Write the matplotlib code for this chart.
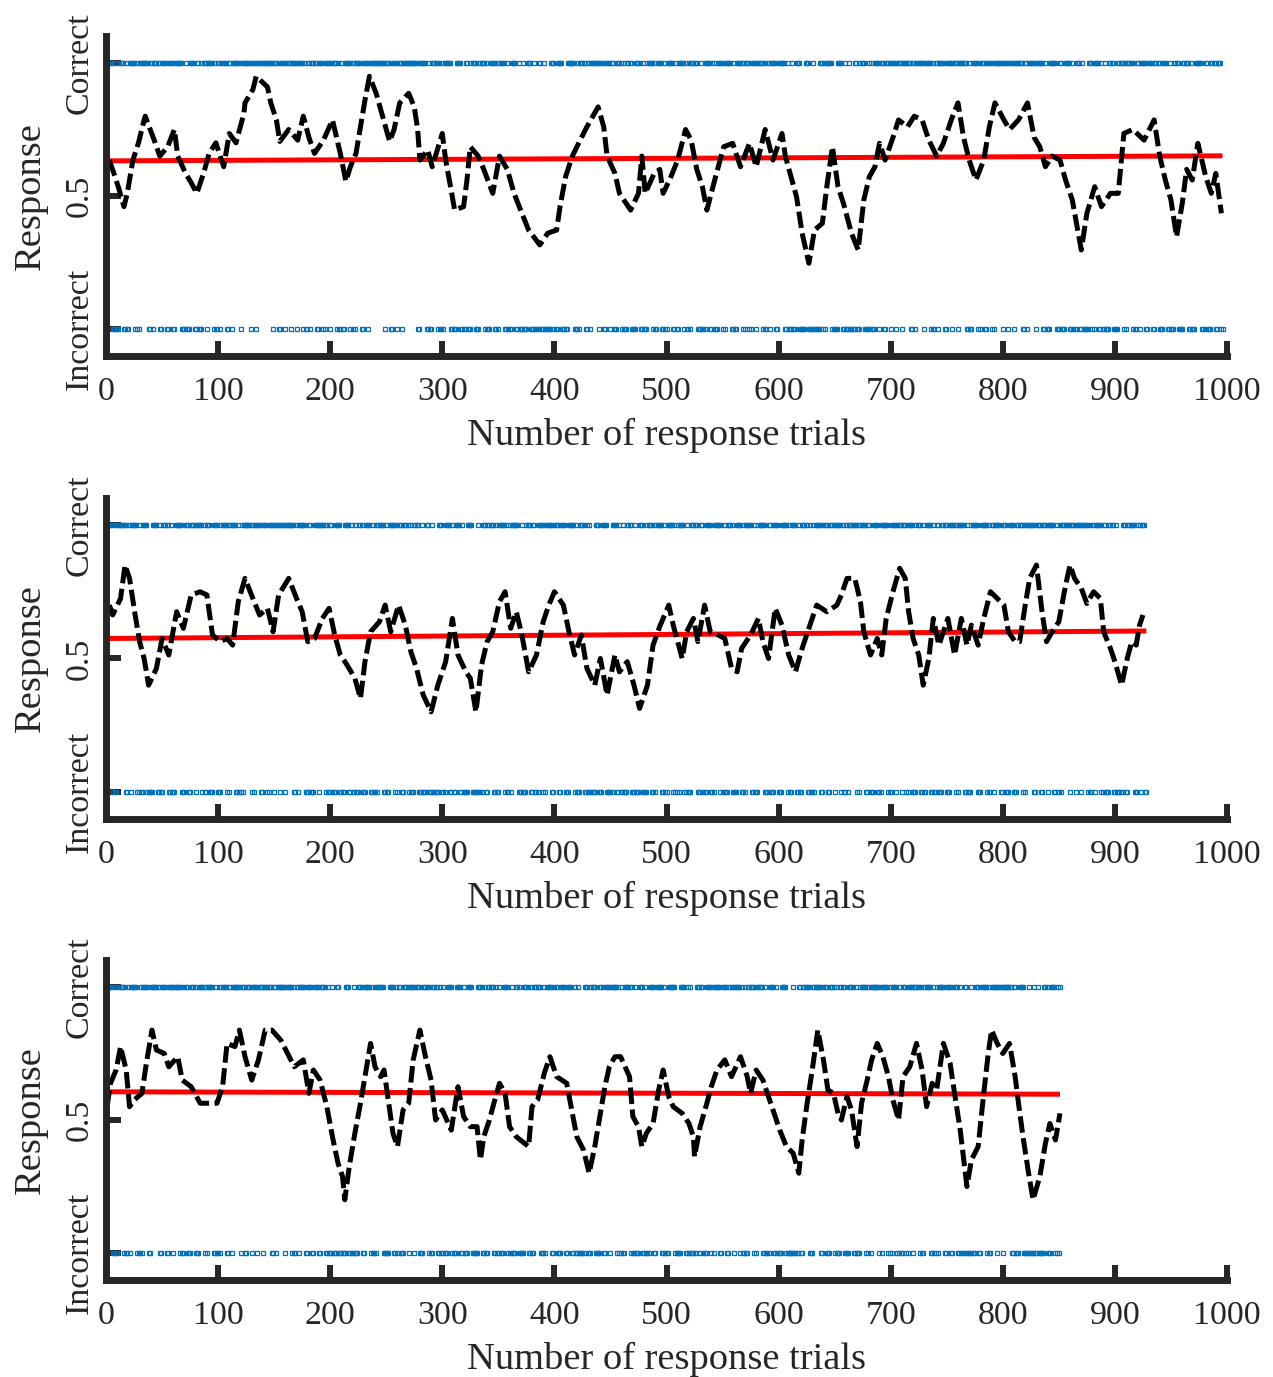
import numpy as np
import matplotlib
matplotlib.use("Agg")
import matplotlib.pyplot as plt

plt.rcParams['font.family'] = ['Liberation Serif', 'DejaVu Serif']

"""
Three sessions of response trials: raw outcomes (blue), moving average (black dashed)
and a linear trend (red).
"""

# number of trials per session
n_trials = [996, 928, 851]

# trial outcomes, 1 = correct, 0 = incorrect (blocks of 10 trials)
outcomes_1 = """
1111100100 0111100100 1111101001 1111111001 1011111001
1110011110 0111111000 1000111100 1100011110 1111101001
1011111001 1011111110 1111111101 1110111111 1111111101
1110011110 1111011110 1111101001 1011111001 1110011110
1111101001 0011111010 1011111001 1110111111 1111111101
1110011110 1110111111 1111111001 1111100100 1111101001
0111111000 0011110000 1100011110 0011111010 0011110010
1111100100 0111100100 0100011100 0100011000 1000001110
0011110000 0111111000 1011111001 1011111110 1110011110
1100011110 1000111100 0011110010 0011111010 0111100100
1111100100 1111101001 0111111000 1000111100 1100011110
1011111001 0011111010 1110011110 1111101001 1011111001
1111100100 0100011100 0001110000 1000001110 0111111000
0011110010 0010000110 0011110000 1100011110 1110011110
1111011110 1111111001 1011111110 1111101001 1011111001
1111011110 1111111001 0011111010 1110011110 1011111110
1111011110 1111111001 1011111110 1111100100 0111111000
1100011110 0100011100 1000001110 0111100100 1000111100
0011111010 1111101001 1011111001 1110011110 0011110010
0011110000 1111100100 0111111000 1100011110 0111000000
"""

outcomes_2 = """
1111101001 1111111001 1011111001 0011110000 0111100100
1111100100 0111111000 1110011110 1111101001 1100011110
0011111010 1111100100 1011111110 1011111001 1110011110
1111011110 1111111001 0111111000 1100011110 1111101001
1000111100 0011110010 0100011100 0111100100 1011111001
0011111010 1110011110 1000111100 0100011000 1000001110
0011110010 0111100100 0011110000 0100011100 1111100100
1111101001 0111111000 1000111100 1100011110 1011111001
1110011110 0011111010 0011110010 1000001110 0011110000
0111100100 1000111100 0100011100 0011110010 1111100100
1111101001 0111100100 0111111000 1100011110 0011111010
1000111100 0011110010 1111100100 0111111000 1100011110
0011111010 0111100100 1111100100 1011111001 1110011110
1111101001 1011111110 1011111001 1000111100 0111111000
1111011110 1110011110 0011110010 0111100100 1100011110
0011111010 1111100100 0111111000 1111101001 1011111001
1100011110 0011111010 1111111001 1110011110 1111100100
1011111110 1111011110 1111101001 1011111001 1000111100
1000001110 0111111000 1101110000
"""

outcomes_3 = """
1111100100 1111101001 0111111000 1011111001 1111111001
1110011110 1111101001 1100011110 0011111010 1111100100
1011111001 1011111110 1110011110 1111011110 1111111001
1011111110 1111101001 1011111001 1110011110 0111100100
0100011000 0001110000 1000111100 1111101001 0111111000
0011110010 1100011110 1111011110 0011111010 0111100100
1000111100 0011110010 0011110000 0111100100 1111100100
1000111100 0100011100 0011110010 0111111000 1011111001
1100011110 0111100100 1000001110 0011110000 1110011110
1111101001 0011111010 0100011100 1000111100 1111100100
0111111000 0011110010 1000001110 1100011110 1011111001
1110011110 1111101001 0011111010 1111100100 0111100100
0011110000 0010000110 0111111000 1111111001 1100011110
1000111100 0011110010 0011111010 1011111110 1011111001
0111100100 1110011110 1111101001 1111100100 1011111001
1110011110 0100011000 0100011100 1111101001 1111011110
1111111001 1000111100 0010000100 1000001110 0011110010
1000000000
"""

# moving average of responses (trial, value)
avg_1_x = [3, 8, 12, 16, 19, 24, 29, 34, 35, 43, 48, 55, 61, 64, 71, 76, 81, 87, 92, 98,
           105, 110, 116, 123, 124, 131, 134, 144, 147, 152, 155, 163, 171, 176, 181, 186, 194, 202, 209, 214,
           218, 223, 227, 231, 235, 241, 246, 253, 257, 262, 270, 275, 278, 280, 287, 291, 300, 303, 308, 311,
           319, 322, 325, 332, 337, 345, 351, 358, 364, 371, 377, 387, 394, 402, 405, 410, 416, 423, 429, 439,
           444, 447, 454, 458, 468, 475, 478, 481, 489, 494, 497, 504, 510, 517, 522, 527, 532, 536, 543, 551,
           559, 566, 574, 580, 588, 595, 603, 606, 611, 616, 621, 627, 632, 639, 643, 648, 653, 658, 665, 671,
           676, 681, 686, 690, 695, 702, 707, 715, 721, 728, 734, 741, 747, 754, 760, 765, 770, 776, 783, 788,
           793, 801, 806, 814, 822, 828, 833, 838, 844, 851, 856, 862, 870, 875, 882, 888, 896, 903, 908, 916,
           926, 935, 940, 945, 950, 955, 960, 964, 969, 974, 981, 986, 990, 995]
avg_1_y = [0.635, 0.573, 0.52, 0.46, 0.51, 0.635, 0.70, 0.786, 0.80, 0.71, 0.65, 0.685, 0.75, 0.65, 0.585, 0.55, 0.51, 0.585, 0.66, 0.70,
           0.61, 0.735, 0.70, 0.81, 0.85, 0.90, 0.95, 0.91, 0.85, 0.786, 0.705, 0.75, 0.71, 0.80, 0.72, 0.66, 0.71, 0.786, 0.66, 0.555,
           0.61, 0.66, 0.76, 0.86, 0.95, 0.886, 0.81, 0.705, 0.75, 0.85, 0.886, 0.835, 0.75, 0.635, 0.673, 0.61, 0.735, 0.635, 0.52, 0.447,
           0.46, 0.56, 0.685, 0.65, 0.60, 0.51, 0.65, 0.60, 0.51, 0.435, 0.372, 0.316, 0.36, 0.372, 0.46, 0.573, 0.65, 0.71, 0.76, 0.835,
           0.76, 0.65, 0.585, 0.51, 0.447, 0.51, 0.65, 0.51, 0.585, 0.60, 0.51, 0.573, 0.635, 0.75, 0.71, 0.60, 0.535, 0.447, 0.56, 0.685,
           0.698, 0.61, 0.698, 0.61, 0.75, 0.635, 0.735, 0.65, 0.573, 0.497, 0.36, 0.247, 0.372, 0.397, 0.535, 0.685, 0.535, 0.47, 0.36, 0.297,
           0.485, 0.573, 0.61, 0.698, 0.635, 0.72, 0.786, 0.76, 0.80, 0.786, 0.71, 0.65, 0.698, 0.786, 0.85, 0.72, 0.635, 0.56, 0.635, 0.76,
           0.85, 0.786, 0.75, 0.786, 0.85, 0.72, 0.685, 0.61, 0.65, 0.635, 0.56, 0.485, 0.297, 0.435, 0.535, 0.46, 0.51, 0.51, 0.735, 0.75,
           0.71, 0.786, 0.65, 0.56, 0.485, 0.347, 0.47, 0.60, 0.56, 0.698, 0.573, 0.51, 0.585, 0.435]

avg_2_x = [3, 6, 13, 17, 21, 26, 30, 34, 38, 45, 50, 56, 63, 69, 76, 84, 90, 95, 102, 108,
           113, 118, 124, 131, 137, 144, 149, 154, 163, 170, 175, 180, 186, 193, 199, 204, 209, 215, 222, 227,
           231, 236, 244, 249, 254, 261, 267, 272, 277, 283, 290, 296, 303, 309, 314, 321, 325, 330, 335, 340,
           345, 351, 356, 361, 366, 371, 377, 384, 390, 395, 400, 408, 413, 418, 424, 429, 436, 441, 447, 454,
           458, 465, 471, 476, 483, 488, 494, 497, 502, 506, 514, 518, 524, 528, 534, 539, 546, 552, 558, 563,
           567, 575, 582, 586, 591, 597, 603, 609, 615, 621, 627, 634, 643, 652, 656, 661, 668, 673, 676, 682,
           688, 692, 696, 702, 708, 713, 716, 720, 725, 729, 734, 738, 743, 747, 751, 757, 763, 768, 772, 778,
           783, 789, 795, 801, 805, 811, 815, 820, 824, 830, 835, 839, 844, 850, 856, 860, 864, 870, 875, 881,
           887, 890, 896, 900, 906, 911, 915, 919, 922, 925]
avg_2_y = [0.70, 0.663, 0.725, 0.85, 0.80, 0.663, 0.563, 0.50, 0.40, 0.463, 0.575, 0.513, 0.675, 0.613, 0.738, 0.75, 0.738, 0.588, 0.563, 0.575,
           0.55, 0.713, 0.80, 0.725, 0.663, 0.688, 0.60, 0.738, 0.80, 0.725, 0.675, 0.563, 0.575, 0.65, 0.688, 0.588, 0.513, 0.476, 0.426, 0.35,
           0.488, 0.60, 0.638, 0.70, 0.60, 0.70, 0.625, 0.525, 0.463, 0.363, 0.30, 0.40, 0.488, 0.65, 0.513, 0.45, 0.426, 0.30, 0.476, 0.563,
           0.60, 0.713, 0.75, 0.613, 0.675, 0.588, 0.45, 0.513, 0.638, 0.70, 0.75, 0.70, 0.60, 0.513, 0.588, 0.463, 0.40, 0.50, 0.363, 0.513,
           0.45, 0.488, 0.40, 0.313, 0.40, 0.55, 0.62, 0.65, 0.70, 0.625, 0.50, 0.60, 0.65, 0.563, 0.70, 0.60, 0.588, 0.575, 0.463, 0.45,
           0.538, 0.588, 0.65, 0.563, 0.50, 0.688, 0.625, 0.513, 0.45, 0.538, 0.613, 0.70, 0.675, 0.70, 0.738, 0.80, 0.80, 0.713, 0.60, 0.513,
           0.575, 0.513, 0.65, 0.75, 0.838, 0.80, 0.675, 0.575, 0.513, 0.40, 0.50, 0.65, 0.55, 0.60, 0.65, 0.513, 0.65, 0.55, 0.625, 0.55,
           0.65, 0.75, 0.725, 0.70, 0.60, 0.563, 0.563, 0.70, 0.80, 0.85, 0.675, 0.563, 0.60, 0.638, 0.775, 0.85, 0.80, 0.763, 0.706, 0.75,
           0.725, 0.60, 0.538, 0.488, 0.40, 0.50, 0.563, 0.55, 0.625, 0.663]

avg_3_x = [1, 4, 9, 13, 18, 21, 25, 32, 36, 41, 45, 52, 56, 64, 68, 76, 84, 99, 104, 108,
           115, 119, 124, 130, 136, 142, 148, 156, 162, 168, 176, 181, 185, 191, 197, 202, 207, 211, 213, 217,
           222, 227, 231, 236, 240, 245, 248, 253, 256, 260, 265, 270, 274, 280, 285, 290, 294, 300, 308, 314,
           319, 325, 331, 334, 337, 342, 346, 351, 356, 360, 366, 377, 380, 385, 391, 396, 402, 411, 416, 420,
           426, 431, 436, 440, 445, 449, 454, 459, 463, 467, 470, 475, 478, 482, 488, 493, 497, 502, 506, 514,
           520, 524, 525, 530, 536, 540, 545, 552, 558, 566, 572, 575, 580, 586, 591, 595, 601, 607, 613, 618,
           621, 625, 630, 635, 640, 644, 649, 653, 656, 661, 665, 670, 674, 679, 683, 688, 693, 698, 702, 707,
           711, 717, 723, 728, 732, 737, 741, 747, 753, 757, 762, 768, 772, 778, 783, 787, 790, 795, 800, 806,
           811, 814, 818, 823, 827, 833, 838, 842, 847, 851]
avg_3_y = [0.55, 0.638, 0.688, 0.776, 0.688, 0.55, 0.575, 0.60, 0.713, 0.838, 0.763, 0.75, 0.70, 0.738, 0.65, 0.625, 0.563, 0.563, 0.625, 0.788,
           0.776, 0.838, 0.738, 0.65, 0.726, 0.838, 0.838, 0.80, 0.75, 0.70, 0.726, 0.60, 0.688, 0.65, 0.55, 0.437, 0.337, 0.287, 0.20, 0.325,
           0.45, 0.563, 0.663, 0.788, 0.70, 0.663, 0.688, 0.538, 0.45, 0.40, 0.538, 0.563, 0.726, 0.838, 0.738, 0.65, 0.50, 0.538, 0.462, 0.625,
           0.513, 0.475, 0.475, 0.35, 0.437, 0.50, 0.563, 0.638, 0.60, 0.475, 0.437, 0.40, 0.55, 0.575, 0.676, 0.738, 0.663, 0.638, 0.525, 0.437,
           0.387, 0.30, 0.40, 0.50, 0.625, 0.70, 0.738, 0.738, 0.70, 0.663, 0.513, 0.475, 0.40, 0.45, 0.487, 0.613, 0.688, 0.588, 0.55, 0.525,
           0.487, 0.437, 0.362, 0.475, 0.563, 0.626, 0.688, 0.726, 0.663, 0.738, 0.663, 0.60, 0.688, 0.65, 0.588, 0.538, 0.462, 0.40, 0.375, 0.30,
           0.425, 0.55, 0.688, 0.838, 0.726, 0.613, 0.60, 0.525, 0.50, 0.588, 0.538, 0.40, 0.563, 0.65, 0.726, 0.788, 0.738, 0.663, 0.575, 0.50,
           0.663, 0.70, 0.788, 0.688, 0.55, 0.638, 0.613, 0.788, 0.713, 0.60, 0.462, 0.25, 0.35, 0.40, 0.60, 0.75, 0.838, 0.788, 0.75, 0.788,
           0.663, 0.563, 0.437, 0.30, 0.20, 0.287, 0.412, 0.487, 0.425, 0.525]

# linear trend, value at first and last trial
trend_start = [0.632, 0.575, 0.606]
trend_end = [0.651, 0.603, 0.597]

x_ticks = list(range(0, 1001, 100))
y_ticks = [0, 0.5, 1]
y_tick_labels = ['Incorrect', '0.5', 'Correct']

# colors
blue = '#0072BD'
axis_color = '#262626'

fig = plt.figure(figsize=(12.73, 13.77), dpi=100)

# axes boxes in figure fraction
bottoms = [0.74176, 0.40545, 0.07073]
heights = [0.23181, 0.23268, 0.23181]

outcomes = [outcomes_1, outcomes_2, outcomes_3]
avg_x = [avg_1_x, avg_2_x, avg_3_x]
avg_y = [avg_1_y, avg_2_y, avg_3_y]

for i in range(3):
    ax = fig.add_axes([0.08327, bottoms[i], 0.88060, heights[i]])
    n = n_trials[i]

    # raw outcomes
    o = np.array([int(c) for c in outcomes[i].replace(" ", "").replace("\n", "")])[:n]
    trials = np.arange(1, n + 1)
    for v in [1, 0]:
        ax.plot(trials[o == v], o[o == v], ls='none', marker='s', ms=3.3,
                mfc='none', mec=blue, mew=0.9)

    # trend and moving average
    ax.plot([1, n], [trend_start[i], trend_end[i]], color='red', lw=3.6, solid_capstyle='butt')
    ax.plot(avg_x[i], avg_y[i], color='black', lw=3.6, ls='--', dashes=(3.3, 1.1))

    ax.set_xlim(0, 1000)
    ax.set_ylim(-0.1, 1.1)

    # axes styling
    for s in ['top', 'right']:
        ax.spines[s].set_visible(False)
    for s in ['left', 'bottom']:
        ax.spines[s].set_linewidth(5)
        ax.spines[s].set_color(axis_color)

    ax.set_xticks(x_ticks)
    ax.set_yticks(y_ticks)
    ax.set_yticklabels(y_tick_labels, rotation=90, va='center')
    ax.tick_params(direction='in', length=10.5, width=4.3, color=axis_color,
                   labelcolor=axis_color, labelsize=24.5)
    ax.tick_params(axis='x', pad=15)
    ax.tick_params(axis='y', pad=8)

    ax.set_xlabel('Number of response trials', fontsize=27.7, color=axis_color, va='center')
    ax.xaxis.set_label_coords(0.5, -0.249)
    ax.set_ylabel('Response', fontsize=27.7, color=axis_color, va='center')
    ax.yaxis.set_label_coords(-0.067, 0.5)

fig.savefig('out.png', dpi=100)
